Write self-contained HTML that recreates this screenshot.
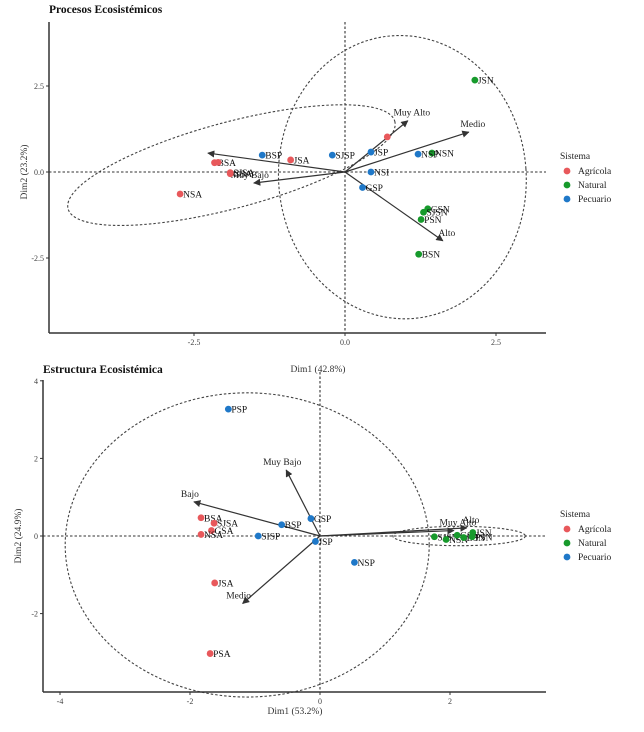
<!DOCTYPE html>
<html><head><meta charset="utf-8">
<style>
html,body{margin:0;padding:0;background:#fff;}
svg{display:block;font-family:"Liberation Serif",serif;}
</style></head>
<body>
<svg id="chart" width="644" height="732" viewBox="0 0 644 732" xmlns="http://www.w3.org/2000/svg">
<defs>
<marker id="ah" viewBox="0 0 10 10" refX="9" refY="5" markerWidth="6" markerHeight="6" orient="auto-start-reverse"><path d="M0,0 L10,5 L0,10 z" fill="#333"/></marker>
</defs>
</svg>
<script>
// ---------- Panel 1 data: Procesos Ecosistémicos ----------
const p1Names = ["JSN","NSN","NSP","JSP","","NSI","GSP","GSN","SJSN","PSN","BSN","SJSP","JSA","BSP","BSA","","SJSA","GSA","NSA"];
const p1Group = ["N","N","P","P","A","P","P","N","N","N","N","P","A","P","A","A","A","A","A"];
const p1X = [2.15,1.44,1.21,0.43,0.70,0.43,0.29,1.37,1.30,1.26,1.22,-0.21,-0.90,-1.37,-2.16,-2.10,-1.90,-1.90,-2.73];
const p1Y = [2.67,0.55,0.52,0.58,1.02,0.00,-0.45,-1.07,-1.17,-1.38,-2.39,0.49,0.35,0.49,0.27,0.28,-0.02,-0.05,-0.64];
const p1ArrowNames = ["Muy Alto","Medio","Alto","","Muy Bajo"];
const p1ArrowX = [1.04,2.05,1.62,-2.27,-1.51];
const p1ArrowY = [1.49,1.16,-2.00,0.55,-0.32];
const p1XTicks = [-2.5,0,2.5];
const p1XTickLabels = ["-2.5","0.0","2.5"];
const p1YTicks = [2.5,0,-2.5];
const p1YTickLabels = ["2.5","0.0","-2.5"];

// ---------- Panel 2 data: Estructura Ecosistémica ----------
const p2Names = ["PSP","BSA","SJSA","GSA","NSA","SISP","BSP","GSP","JSP","NSP","JSA","PSA","SJSN","NSN","GSN","BSN","JSN","PSN"];
const p2Group = ["P","A","A","A","A","P","P","P","P","P","A","A","N","N","N","N","N","N"];
const p2X = [-1.41,-1.83,-1.63,-1.67,-1.83,-0.95,-0.59,-0.14,-0.07,0.53,-1.62,-1.69,1.76,1.94,2.11,2.21,2.35,2.34];
const p2Y = [3.27,0.47,0.33,0.14,0.04,0.00,0.29,0.45,-0.14,-0.68,-1.21,-3.03,-0.02,-0.09,0.02,-0.04,0.09,-0.02];
const p2ArrowNames = ["Muy Bajo","Bajo","Medio","Muy Alto","Alto"];
const p2ArrowX = [-0.52,-1.94,-1.19,2.06,2.26];
const p2ArrowY = [1.70,0.88,-1.74,0.14,0.21];
const p2XTicks = [-4,-2,0,2];
const p2XTickLabels = ["-4","-2","0","2"];
const p2YTicks = [4,2,0,-2];
const p2YTickLabels = ["4","2","0","-2"];

const colors = {A:"#e8585b", N:"#179a2c", P:"#1f78c8"};
const svg = document.getElementById('chart');
const NS = "http://www.w3.org/2000/svg";
function mk(tag, attrs, parent){
  const e = document.createElementNS(NS, tag);
  for (const k in attrs) e.setAttribute(k, attrs[k]);
  (parent||svg).appendChild(e);
  return e;
}
function txt(s, attrs, parent){ const t = mk('text', attrs, parent); t.textContent = s; return t; }

function panel(cfg){
  const g = mk('g', {});
  
  
  const sx = v => cfg.x0 + v*cfg.kx;
  const sy = v => cfg.y0 - v*cfg.ky;
  const t = txt(cfg.title, {x:cfg.left, y:cfg.titleY, 'font-size':11.5, 'font-weight':'bold', fill:'#111'}, g);
  
  
  cfg.ellipses.forEach(el => {
    const e = mk('ellipse', {cx:sx(el[0]), cy:sy(el[1]), rx:el[2]*cfg.kx, ry:el[3]*cfg.ky, transform:`rotate(${el[4]} ${sx(el[0])} ${sy(el[1])})`, fill:'none', stroke:'#444', 'stroke-width':1.1, 'stroke-dasharray':'2.5,2'}, g);
    
    
  });
  const hl = mk('line', {x1:cfg.left, x2:cfg.right, y1:sy(0), y2:sy(0), stroke:'#333', 'stroke-width':1.1, 'stroke-dasharray':'2.5,2'}, g);
  
  
  const vl = mk('line', {x1:sx(0), x2:sx(0), y1:cfg.vTop, y2:cfg.bottom, stroke:'#333', 'stroke-width':1.1, 'stroke-dasharray':'2.5,2'}, g);
  
  
  const xa = mk('line', {x1:cfg.left, x2:cfg.right, y1:cfg.bottom, y2:cfg.bottom, stroke:'#333', 'stroke-width':1.5}, g);
  
  
  const ya = mk('line', {x1:cfg.left, x2:cfg.left, y1:cfg.top, y2:cfg.bottom, stroke:'#333', 'stroke-width':1.5}, g);
  
  
  cfg.xTicks.forEach((v,i) => {
    mk('line', {x1:sx(v), x2:sx(v), y1:cfg.bottom, y2:cfg.bottom+3, stroke:'#333'}, g);
    const l = txt(cfg.xTickLabels[i], {x:sx(v), y:cfg.bottom+12, 'font-size':8, fill:'#444', 'text-anchor':'middle'}, g);
    
    
  });
  cfg.yTicks.forEach((v,i) => {
    mk('line', {x1:cfg.left-3, x2:cfg.left, y1:sy(v), y2:sy(v), stroke:'#333'}, g);
    const l = txt(cfg.yTickLabels[i], {x:cfg.left-5, y:sy(v)+3, 'font-size':8, fill:'#444', 'text-anchor':'end'}, g);
    
    
  });
  const yl = txt(cfg.yLabel, {x:0, y:0, 'font-size':9.5, fill:'#333', 'text-anchor':'middle', transform:`translate(${cfg.left-22},${sy(0)}) rotate(-90)`}, g);
  
  
  if (cfg.xLabel) {
    const xl = txt(cfg.xLabel, {x:cfg.xLabelX, y:cfg.bottom+22, 'font-size':9.5, fill:'#333', 'text-anchor':'middle'}, g);
    
    
  }
  if (cfg.topLabel) {
    const tl = txt(cfg.topLabel, {x:sx(0)-2, y:cfg.titleY-1, 'font-size':9.5, fill:'#333', 'text-anchor':'middle'}, g);
    
    
  }
  cfg.aX.forEach((v,i) => {
    const a = mk('line', {x1:sx(0), y1:sy(0), x2:sx(v), y2:sy(cfg.aY[i]), stroke:'#333', 'stroke-width':1.2, 'marker-end':'url(#ah)'}, g);
    
    
    if (cfg.aN[i]) {
      const dx = v >= 0 ? 4 : -4;
      const l = txt(cfg.aN[i], {x:sx(v)+dx, y:sy(cfg.aY[i])-5, 'font-size':9.5, fill:'#222', 'text-anchor':'middle'}, g);
      
      
    }
  });
  cfg.pX.forEach((v,i) => {
    const c = mk('circle', {cx:sx(v), cy:sy(cfg.pY[i]), r:3.4, fill:colors[cfg.pG[i]]}, g);
    
    
    if (cfg.pN[i]) {
      const l = txt(cfg.pN[i], {x:sx(v)+3, y:sy(cfg.pY[i])+3.5, 'font-size':9.5, fill:'#111'}, g);
      
      
    }
  });
  const lg = mk('g', {}, g);
  
  
  txt('Sistema', {x:560, y:cfg.legY, 'font-size':9.5, fill:'#222'}, lg);
  [['Agrícola','A'],['Natural','N'],['Pecuario','P']].forEach((it,j) => {
    const yy = cfg.legY + 15 + j*14;
    const e = mk('g', {}, lg);
    
    
    mk('circle', {cx:567, cy:yy-3, r:3.4, fill:colors[it[1]]}, e);
    txt(it[0], {x:578, y:yy, 'font-size':9.5, fill:'#222'}, e);
  });
}

panel({name:'procesos-panel', title:'Procesos Ecosistémicos', titleY:13,
  x0:345, y0:172, kx:60.4, ky:34.4, left:49, right:546, top:22, bottom:333, vTop:22,
  xTicks:p1XTicks, xTickLabels:p1XTickLabels, yTicks:p1YTicks, yTickLabels:p1YTickLabels,
  yLabel:'Dim2 (23.2%)', xLabel:null, topLabel:null,
  ellipses:[[0.95,-0.15,2.05,4.12,-4],[-1.88,0.2,2.8,1.25,-15]],
  aX:p1ArrowX, aY:p1ArrowY, aN:p1ArrowNames,
  pX:p1X, pY:p1Y, pG:p1Group, pN:p1Names, legY:159});

panel({name:'estructura-panel', title:'Estructura Ecosistémica', titleY:373,
  x0:320, y0:536, kx:65, ky:38.8, left:43, right:546, top:380, bottom:692, vTop:372,
  xTicks:p2XTicks, xTickLabels:p2XTickLabels, yTicks:p2YTicks, yTickLabels:p2YTickLabels,
  yLabel:'Dim2 (24.9%)', xLabel:'Dim1 (53.2%)', xLabelX:295, topLabel:'Dim1 (42.8%)',
  ellipses:[[-1.12,-0.23,2.8,3.92,0],[2.14,0,1.02,0.25,0]],
  aX:p2ArrowX, aY:p2ArrowY, aN:p2ArrowNames,
  pX:p2X, pY:p2Y, pG:p2Group, pN:p2Names, legY:517});
</script>
</body></html>
